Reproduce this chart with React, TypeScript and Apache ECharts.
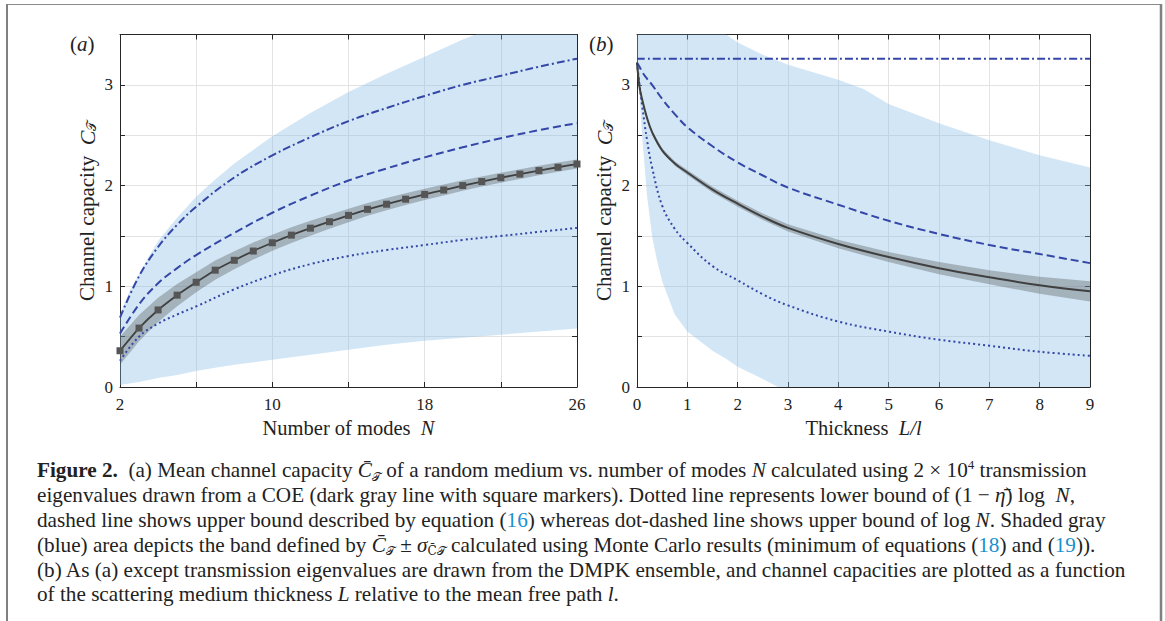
import React, { useEffect, useRef } from "react";
import * as echarts from "echarts";

// ---------- Panel (a): COE, vs number of modes N ----------
const nA = [2, 3, 4, 5, 6, 7, 8, 9, 10, 11, 12, 13, 14, 15, 16, 17, 18, 19, 20, 21, 22, 23, 24, 25, 26];
const meanA = [0.36, 0.585, 0.765, 0.912, 1.04, 1.16, 1.258, 1.35, 1.432, 1.508, 1.577, 1.641, 1.704, 1.764, 1.815, 1.865, 1.912, 1.956, 2.0, 2.04, 2.078, 2.114, 2.149, 2.182, 2.214];
const sigmaA = [0.14, 0.13, 0.12, 0.11, 0.1, 0.095, 0.09, 0.085, 0.08, 0.077, 0.074, 0.07, 0.067, 0.064, 0.061, 0.058, 0.056, 0.054, 0.052, 0.05, 0.049, 0.048, 0.047, 0.046, 0.045];

const nLinesA = [2, 3, 4, 5, 6, 8, 10, 12, 14, 16, 18, 20, 22, 24, 26];
const dotDashA = [0.69, 1.1, 1.39, 1.61, 1.79, 2.08, 2.3, 2.48, 2.64, 2.77, 2.89, 3.0, 3.09, 3.18, 3.26];
const dashedA = [0.53, 0.82, 1.03, 1.18, 1.31, 1.53, 1.73, 1.9, 2.05, 2.17, 2.28, 2.38, 2.47, 2.55, 2.62];
const dottedA = [0.26, 0.5, 0.63, 0.72, 0.8, 0.97, 1.11, 1.22, 1.3, 1.36, 1.41, 1.46, 1.5, 1.54, 1.58];

const nBandA = [2, 2.5, 3, 3.5, 4, 5, 6, 7, 8, 10, 12, 14, 16, 18, 20, 22, 24, 26];
const blueUpA = [0.72, 0.95, 1.12, 1.29, 1.45, 1.68, 1.89, 2.06, 2.22, 2.49, 2.72, 2.93, 3.11, 3.28, 3.45, 3.6, 3.74, 3.87];
const blueLowA = [0.02, 0.035, 0.05, 0.07, 0.09, 0.12, 0.16, 0.19, 0.22, 0.27, 0.32, 0.37, 0.42, 0.46, 0.49, 0.52, 0.55, 0.58];

// ---------- Panel (b): DMPK, vs thickness L/l ----------
const xB = [0, 0.05, 0.1, 0.2, 0.3, 0.5, 0.75, 1, 1.5, 2, 2.5, 3, 4, 5, 6, 7, 8, 9];
const meanB = [3.22, 2.98, 2.86, 2.67, 2.53, 2.35, 2.22, 2.13, 1.96, 1.82, 1.69, 1.58, 1.42, 1.29, 1.18, 1.09, 1.01, 0.95];
const sigmaB = [0, 0.01, 0.012, 0.015, 0.018, 0.02, 0.022, 0.025, 0.028, 0.03, 0.033, 0.036, 0.043, 0.05, 0.06, 0.07, 0.085, 0.1];
const dashedB = [3.22, 3.18, 3.13, 3.06, 3.0, 2.86, 2.71, 2.58, 2.39, 2.23, 2.1, 1.98, 1.81, 1.65, 1.52, 1.41, 1.32, 1.23];
const dottedB = [3.22, 3.0, 2.8, 2.45, 2.18, 1.8, 1.57, 1.43, 1.2, 1.06, 0.92, 0.81, 0.65, 0.55, 0.47, 0.41, 0.35, 0.31];
const xDotDashB = [0, 9];
const dotDashB = [3.26, 3.26];
const xBlueB = [0, 0.05, 0.1, 0.2, 0.3, 0.4, 0.5, 0.75, 1, 1.5, 1.77, 2, 2.5, 2.8, 3, 4, 4.5, 5, 6, 7, 8, 9];
const blueUpB = [4.6, 4.55, 4.5, 4.4, 4.3, 4.2, 4.1, 3.95, 3.85, 3.62, 3.5, 3.42, 3.3, 3.24, 3.2, 3.05, 2.96, 2.81, 2.62, 2.45, 2.3, 2.18];
const blueLowB = [3.2, 2.9, 2.5, 1.9, 1.5, 1.25, 1.05, 0.72, 0.55, 0.36, 0.28, 0.2, 0.08, 0, 0, 0, 0, 0, 0, 0, 0, 0];

// ---------- Axes ticks ----------
const xTicksA = { min: 2, max: 26, interval: 4, labelEvery: 8 };
const xTicksB = { min: 0, max: 9, interval: 1 };
const yTicks = { min: 0, max: 3.5, interval: 0.5 };

// ---------- Caption ----------
const captionLines = [
  "{b|Figure 2.}  (a) Mean channel capacity {i|C̄}{s|𝒯} of a random medium vs. number of modes {i|N} calculated using 2 × 10{sup|4} transmission",
  "eigenvalues drawn from a COE (dark gray line with square markers). Dotted line represents lower bound of (1 − {i|η̄}) log  {i|N},",
  "dashed line shows upper bound described by equation ({c|16}) whereas dot-dashed line shows upper bound of log {i|N}. Shaded gray",
  "(blue) area depicts the band defined by {i|C̄}{s|𝒯} ± {i|σ}{s|C̄𝒯} calculated using Monte Carlo results (minimum of equations ({c|18}) and ({c|19})).",
  "(b) As (a) except transmission eigenvalues are drawn from the DMPK ensemble, and channel capacities are plotted as a function",
  "of the scattering medium thickness {i|L} relative to the mean free path {i|l}.",
];

const FONT = "'Liberation Serif', 'DejaVu Serif', serif";
const AXIS_COLOR = "#262626";
const GRID_COLOR = "#e3e3e3";
const LINE_BLUE = "#3446a6";
const BLUE_FILL = "rgba(129,186,229,0.36)";
const GRAY_FILL = "rgba(80,80,80,0.35)";
const CAP_SIZE = 21.2;
const CAP_LH = 24.8;

function zip(xs: number[], ys: number[]) {
  return xs.map((x, i) => [x, ys[i]]);
}

function bandSeries(id: string, xs: number[], low: number[], high: number[], axis: number, color: string) {
  return {
    id,
    type: "custom",
    xAxisIndex: axis,
    yAxisIndex: axis,
    clip: true,
    silent: true,
    data: [[xs[0], low[0]]],
    renderItem: (_params: any, api: any) => {
      const pts: number[][] = [];
      for (let i = 0; i < xs.length; i++) pts.push(api.coord([xs[i], high[i]]));
      for (let i = xs.length - 1; i >= 0; i--) pts.push(api.coord([xs[i], low[i]]));
      return {
        type: "polygon",
        shape: { points: pts },
        style: { fill: color, stroke: null },
      };
    },
  };
}

function lineSeries(id: string, xs: number[], ys: number[], axis: number, type: any, width = 2) {
  return {
    id,
    type: "line",
    xAxisIndex: axis,
    yAxisIndex: axis,
    data: zip(xs, ys),
    symbol: "none",
    smooth: 0.4,
    lineStyle: { color: LINE_BLUE, width, type },
  };
}

function xAxes(gridIndex: number, t: any, name: string, formatter: (v: number) => string) {
  const common = {
    type: "value",
    gridIndex,
    min: t.min,
    max: t.max,
    interval: t.interval,
    axisLine: { show: true, onZero: false, lineStyle: { color: AXIS_COLOR, width: 1 } },
    axisTick: { show: true, inside: true, length: 5, lineStyle: { color: AXIS_COLOR } },
  };
  return [
    {
      ...common,
      position: "bottom",
      name,
      nameLocation: "middle",
      nameGap: 30,
      nameTextStyle: {
        fontFamily: FONT,
        fontSize: 20.5,
        color: "#222",
        rich: { i: { fontFamily: FONT, fontSize: 20.5, fontStyle: "italic", color: "#222" } },
      },
      axisLabel: { show: true, formatter, fontFamily: FONT, fontSize: 17, color: "#222", margin: 9 },
      splitLine: { show: true, lineStyle: { color: GRID_COLOR, width: 1 } },
    },
    {
      ...common,
      position: "top",
      axisLabel: { show: false },
      splitLine: { show: false },
    },
  ];
}

function yAxes(gridIndex: number) {
  const common = {
    type: "value",
    gridIndex,
    min: yTicks.min,
    max: yTicks.max,
    interval: yTicks.interval,
    axisLine: { show: true, onZero: false, lineStyle: { color: AXIS_COLOR, width: 1 } },
    axisTick: { show: true, inside: true, length: 5, lineStyle: { color: AXIS_COLOR } },
  };
  return [
    {
      ...common,
      position: "left",
      name: "Channel capacity  {i|C}{s|𝒯}",
      nameLocation: "middle",
      nameGap: 22,
      nameTextStyle: {
        fontFamily: FONT,
        fontSize: 21,
        color: "#222",
        rich: {
          i: { fontFamily: FONT, fontSize: 22, fontStyle: "italic", color: "#222" },
          s: { fontFamily: "'DejaVu Serif', serif", fontSize: 13, color: "#222", verticalAlign: "bottom", padding: [8, 0, 0, 0] },
        },
      },
      axisLabel: {
        show: true,
        formatter: (v: number) => (Math.abs(v - Math.round(v)) < 1e-9 ? String(Math.round(v)) : ""),
        fontFamily: FONT,
        fontSize: 17,
        color: "#222",
        margin: 7,
      },
      splitLine: { show: true, lineStyle: { color: GRID_COLOR, width: 1 } },
    },
    {
      ...common,
      position: "right",
      axisLabel: { show: false },
      splitLine: { show: false },
    },
  ];
}

export default function App() {
  const ref = useRef<HTMLDivElement>(null);

  useEffect(() => {
    if (!ref.current) return;
    const chart = echarts.init(ref.current, null, { renderer: "svg" });

    const grayLowA = meanA.map((m, i) => m - sigmaA[i]);
    const grayHighA = meanA.map((m, i) => m + sigmaA[i]);
    const grayLowB = meanB.map((m, i) => m - sigmaB[i]);
    const grayHighB = meanB.map((m, i) => m + sigmaB[i]);

    const option: any = {
      animation: false,
      backgroundColor: "#ffffff",
      grid: [
        { left: 120, top: 34.5, width: 457, height: 352.5 },
        { left: 637, top: 34.5, width: 453, height: 352.5 },
      ],
      xAxis: [
        ...xAxes(0, xTicksA, "Number of modes  {i|N}", (v: number) =>
          (v - xTicksA.min) % xTicksA.labelEvery === 0 ? String(v) : ""
        ),
        ...xAxes(1, xTicksB, "Thickness  {i|L/l}", (v: number) => String(v)),
      ],
      yAxis: [...yAxes(0), ...yAxes(1)],
      series: [
        bandSeries("blueA", nBandA, blueLowA, blueUpA, 0, BLUE_FILL),
        bandSeries("grayA", nA, grayLowA, grayHighA, 0, GRAY_FILL),
        lineSeries("dotDashA", nLinesA, dotDashA, 0, [8, 3, 2, 3]),
        lineSeries("dashedA", nLinesA, dashedA, 0, [8, 4]),
        lineSeries("dottedA", nLinesA, dottedA, 0, [2, 3]),
        {
          id: "meanA",
          type: "line",
          xAxisIndex: 0,
          yAxisIndex: 0,
          data: zip(nA, meanA),
          symbol: "rect",
          symbolSize: 7,
          smooth: 0.2,
          itemStyle: { color: "#555555" },
          lineStyle: { color: "#404040", width: 1.8 },
        },
        bandSeries("blueB", xBlueB, blueLowB, blueUpB, 2, BLUE_FILL),
        bandSeries("grayB", xB, grayLowB, grayHighB, 2, GRAY_FILL),
        lineSeries("dotDashB", xDotDashB, dotDashB, 2, [8, 3, 2, 3]),
        lineSeries("dashedB", xB, dashedB, 2, [8, 4]),
        lineSeries("dottedB", xB, dottedB, 2, [2, 3]),
        {
          id: "meanB",
          type: "line",
          xAxisIndex: 2,
          yAxisIndex: 2,
          data: zip(xB, meanB),
          symbol: "none",
          smooth: 0.4,
          lineStyle: { color: "#404040", width: 2 },
        },
      ],
      graphic: [
        { type: "line", shape: { x1: 6, y1: 4.5, x2: 1162, y2: 4.5 }, style: { stroke: "#8a8a8a", lineWidth: 1 }, silent: true },
        { type: "line", shape: { x1: 7, y1: 4, x2: 7, y2: 621 }, style: { stroke: "#808080", lineWidth: 2 }, silent: true },
        { type: "line", shape: { x1: 1161, y1: 4, x2: 1161, y2: 621 }, style: { stroke: "#808080", lineWidth: 2.5 }, silent: true },
        {
          type: "text",
          left: 70,
          top: 33,
          style: {
            text: "({i|a})",
            fontFamily: FONT,
            fontSize: 21,
            fill: "#222",
            rich: { i: { fontFamily: FONT, fontSize: 21, fontStyle: "italic", fill: "#222" } },
          },
        },
        {
          type: "text",
          left: 589,
          top: 33,
          style: {
            text: "({i|b})",
            fontFamily: FONT,
            fontSize: 21,
            fill: "#222",
            rich: { i: { fontFamily: FONT, fontSize: 21, fontStyle: "italic", fill: "#222" } },
          },
        },
        {
          type: "text",
          left: 37,
          top: 458,
          style: {
            text: captionLines.join("\n"),
            fontFamily: FONT,
            fontSize: CAP_SIZE,
            fill: "#222",
            lineHeight: CAP_LH,
            rich: {
              b: { fontFamily: FONT, fontSize: CAP_SIZE, fontWeight: "bold", fill: "#222", lineHeight: CAP_LH },
              i: { fontFamily: FONT, fontSize: CAP_SIZE, fontStyle: "italic", fill: "#222", lineHeight: CAP_LH },
              s: { fontFamily: "'DejaVu Serif', serif", fontSize: 12, fill: "#222", lineHeight: CAP_LH, verticalAlign: "bottom", padding: [7, 0, 0, 0] },
              sup: { fontFamily: FONT, fontSize: 13, fill: "#222", lineHeight: CAP_LH, verticalAlign: "top", padding: [0, 0, 7, 0] },
              c: { fontFamily: FONT, fontSize: CAP_SIZE, fill: "#1a8fd0", lineHeight: CAP_LH },
            },
          },
        },
      ],
    };

    chart.setOption(option);
    return () => chart.dispose();
  }, []);

  return (
    <div
      ref={ref}
      style={{ position: "absolute", left: 0, top: 0, width: 1165, height: 621, background: "#fff" }}
    />
  );
}
